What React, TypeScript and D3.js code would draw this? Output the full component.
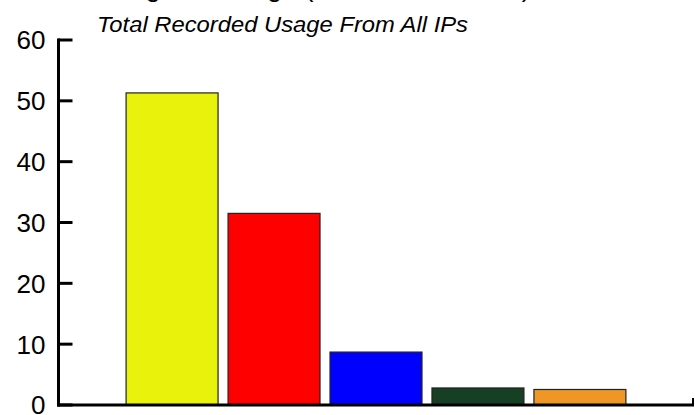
import React from "react";
import * as d3 from "d3";

const categories = ["A", "B", "C", "D", "E"];
const values = [51.3, 31.5, 8.7, 2.8, 2.55];
const colors = ["#e8f20a", "#ff0000", "#0000ff", "#163f24", "#ee9626"];
const yTicks = [0, 10, 20, 30, 40, 50, 60];
const title = "Highest Usage (Per IP Addresses)";
const subtitle = "Total Recorded Usage From All IPs";

const W = 695;
const H = 415;

export default function App() {
  const x = d3
    .scaleBand<string>()
    .domain(categories)
    .range([59, 693])
    .paddingInner(0.098)
    .paddingOuter(0.658);
  const y = d3.scaleLinear().domain([0, 60]).range([405, 40]);
  const font = "Arial, 'Liberation Sans', sans-serif";
  return (
    <svg
      width={W}
      height={H}
      style={{ position: "absolute", left: 0, top: 0, background: "#fff" }}
    >
      <text x={120} y={-4} fontFamily={font} fontSize={27} fill="#000">
        {title}
      </text>
      <text
        x={97}
        y={32}
        fontFamily={font}
        fontSize={21.5}
        fontStyle="italic"
        fill="#000"
        textLength={371}
        lengthAdjust="spacingAndGlyphs"
      >
        {subtitle}
      </text>
      {categories.map((c, i) => (
        <rect
          key={c}
          x={x(c)!}
          y={y(values[i])}
          width={x.bandwidth()}
          height={y(0) - y(values[i])}
          fill={colors[i]}
          stroke="#222"
          strokeWidth={1.2}
        />
      ))}
      <line x1={58.5} x2={58.5} y1={38.5} y2={406.5} stroke="#000" strokeWidth={3} />
      <line x1={57} x2={694} y1={405} y2={405} stroke="#000" strokeWidth={3} />
      <line x1={693} x2={693} y1={398} y2={406} stroke="#000" strokeWidth={2} />
      {yTicks.map((t) => (
        <g key={t}>
          <line x1={58} x2={72.5} y1={y(t)} y2={y(t)} stroke="#000" strokeWidth={3} />
          <text
            x={45.5}
            y={y(t)}
            dy="0.36em"
            textAnchor="end"
            fontFamily={font}
            fontSize={26}
            fill="#000"
          >
            {t}
          </text>
        </g>
      ))}
    </svg>
  );
}
